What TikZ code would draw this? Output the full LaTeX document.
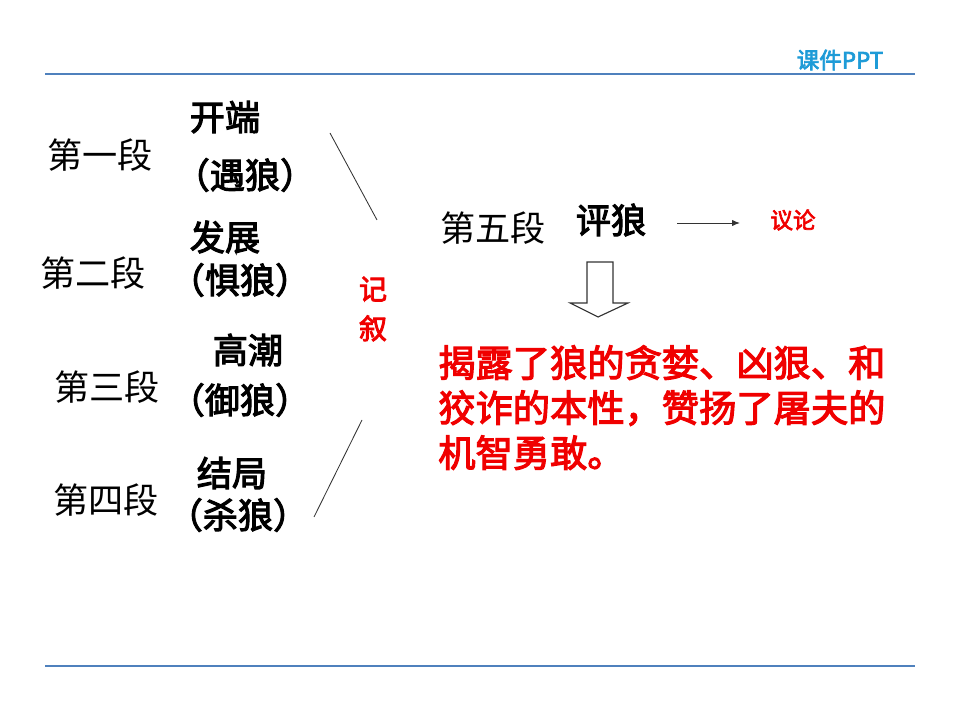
\documentclass[tikz,border=0pt]{standalone}
\usepackage{fontspec}
\setmainfont{Noto Sans CJK SC}[BoldFont=Noto Sans CJK SC,BoldFeatures={FakeBold=3}]
\usepackage{tikz}
\usetikzlibrary{arrows.meta,positioning}
\definecolor{rule}{RGB}{79,129,189}
\definecolor{brand}{RGB}{30,155,215}
\definecolor{hot}{RGB}{240,0,0}

\begin{document}
\begin{tikzpicture}[
  x=0.025cm,y=-0.025cm,
  seg/.style={font=\fontsize{25}{30}\selectfont,inner sep=0pt},
  tag/.style={font=\fontsize{25}{30}\selectfont\bfseries,inner sep=0pt},
  red/.style={text=hot,inner sep=0pt,font=\bfseries},
  note/.style={red,font=\fontsize{26.5}{32}\selectfont\bfseries,align=left},
  thin/.style={draw=black!80,line width=0.6pt},
  ar/.style={-{Latex[length=2mm,width=1.6mm]},line width=0.7pt,draw=black!80}
]
\useasboundingbox (0,0) rectangle (960,720);
% rules and header
\draw[rule,line width=1.8pt] (45,74) -- (915,74);
\draw[rule,line width=1.8pt] (45,666) -- (915,666);
\node[text=brand,font=\fontsize{16}{18}\selectfont\bfseries,inner sep=0pt] (brand) at (840,60) {课件PPT};
% the four narrative parts
\node[seg] (s1) at (100,155) {第一段};
\node[tag] (t1a) at (225,117) {开端};
\node[tag] (t1b) at (245,175) {（遇狼）};
\node[seg] (s2) at (93,273) {第二段};
\node[tag] (t2a) at (225,237) {发展};
\node[tag] (t2b) at (240,280) {（惧狼）};
\node[seg] (s3) at (107,387) {第三段};
\node[tag] (t3a) at (248,350) {高潮};
\node[tag] (t3b) at (240,400) {（御狼）};
\node[seg] (s4) at (106,500) {第四段};
\node[tag] (t4a) at (232,473) {结局};
\node[tag] (t4b) at (238,515) {（杀狼）};
% bracket strokes
\coordinate (a1) at (330,133);
\coordinate (a2) at (377,220);
\coordinate (b1) at (362,420);
\coordinate (b2) at (314,517);
\draw[thin] (a1) -- (a2);
\draw[thin] (b1) -- (b2);
\node[red,font=\fontsize{20}{28}\selectfont\bfseries,align=center] (narr) at (373,309) {记\\叙};
% part five
\node[seg] (s5) at (493,228) {第五段};
\node[tag] (t5) at (611,220) {评狼};
\node[red,font=\fontsize{16}{18}\selectfont\bfseries] (arg) at (793,220) {议论};
\coordinate (p1) at (677,223);
\coordinate (p2) at (740,223);
\draw[ar] (p1) -- (p2);
\draw[thin,line width=0.8pt] (587,262) -- (613,262) -- (613,303) -- (628,303)
  -- (598,317) -- (570,303) -- (587,303) -- cycle;
\node[note,anchor=north west] (sum) at (438,345) {揭露了狼的贪婪、凶狠、和\\狡诈的本性，赞扬了屠夫的\\机智勇敢。};
\end{tikzpicture}
\end{document}
